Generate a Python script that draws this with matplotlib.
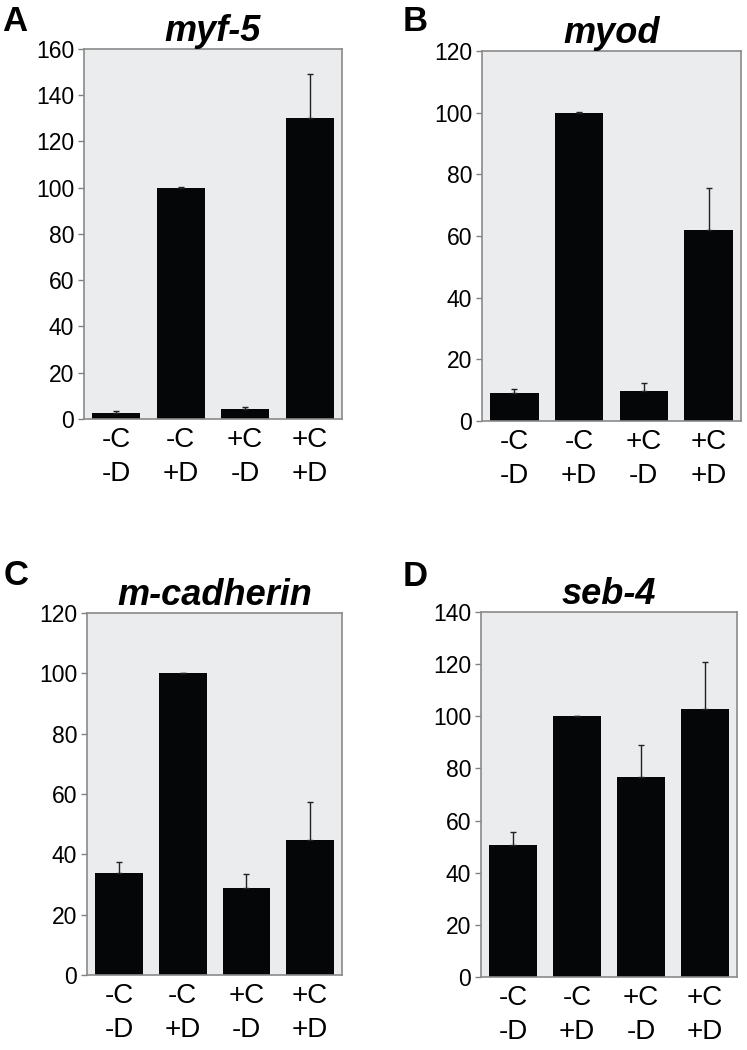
import matplotlib
matplotlib.use("Agg")
import matplotlib.pyplot as plt

plt.rcParams['font.family'] = ['Liberation Sans', 'DejaVu Sans']

# conditions (C = ?, D = ?)
cats = ['-C\n-D', '-C\n+D', '+C\n-D', '+C\n+D']

# values
myf5 = [2.6, 100, 4.3, 130.3]
myf5_err = [1.0, 0.3, 0.9, 18.7]
myod = [9.1, 100, 9.7, 62.1]
myod_err = [1.4, 0.2, 2.6, 13.6]
mcad = [33.7, 100, 28.8, 44.6]
mcad_err = [3.7, 0.2, 4.7, 12.6]
seb4 = [50.5, 100, 76.9, 102.9]
seb4_err = [5.1, 0.2, 12.0, 17.9]

titles = ['myf-5', 'myod', 'm-cadherin', 'seb-4']
letters = ['A', 'B', 'C', 'D']
ymaxes = [160, 120, 120, 140]

fig = plt.figure(figsize=(7.47, 10.5), dpi=100)

# axes boxes in figure fraction (left, bottom, width, height)
boxes = [
    [0.1124, 0.601, 0.3454, 0.3524],
    [0.6452, 0.599, 0.3467, 0.3524],
    [0.1165, 0.0714, 0.3414, 0.3448],
    [0.6439, 0.0695, 0.3427, 0.3476],
]
letter_pos = [(0.003, 0.995), (0.539, 0.995), (0.005, 0.468), (0.539, 0.467)]

series = [(myf5, myf5_err), (myod, myod_err), (mcad, mcad_err), (seb4, seb4_err)]

for i in range(4):
    ax = fig.add_axes(boxes[i])
    vals, errs = series[i]
    x = list(range(len(cats)))
    ax.set_facecolor('#ebecee')
    ax.bar(x, vals, width=0.75, color='#050607', zorder=2)
    ax.errorbar(x, vals, yerr=[[0] * 4, errs], fmt='none', ecolor='#222222',
                elinewidth=1.0, capsize=2.5, capthick=1.0, zorder=3)
    ax.set_xlim(-0.5, 3.5)
    ax.set_ylim(0, ymaxes[i])
    ax.set_yticks(range(0, ymaxes[i] + 1, 20))
    ax.set_xticks(x)
    ax.set_xticklabels(cats, fontsize=20, linespacing=1.4)
    ax.tick_params(axis='x', length=0, pad=6)
    ax.tick_params(axis='y', length=4, width=1.0, color='#808080', labelsize=16.5, pad=3)
    for s in ax.spines.values():
        s.set_color('#8a8a8a')
        s.set_linewidth(1.2)
    ax.set_title(titles[i], fontsize=26, fontweight='bold', style='italic', pad=4)
    fig.text(letter_pos[i][0], letter_pos[i][1], letters[i], fontsize=25,
             fontweight='bold', va='top', ha='left')

fig.savefig('out.png', dpi=100)
